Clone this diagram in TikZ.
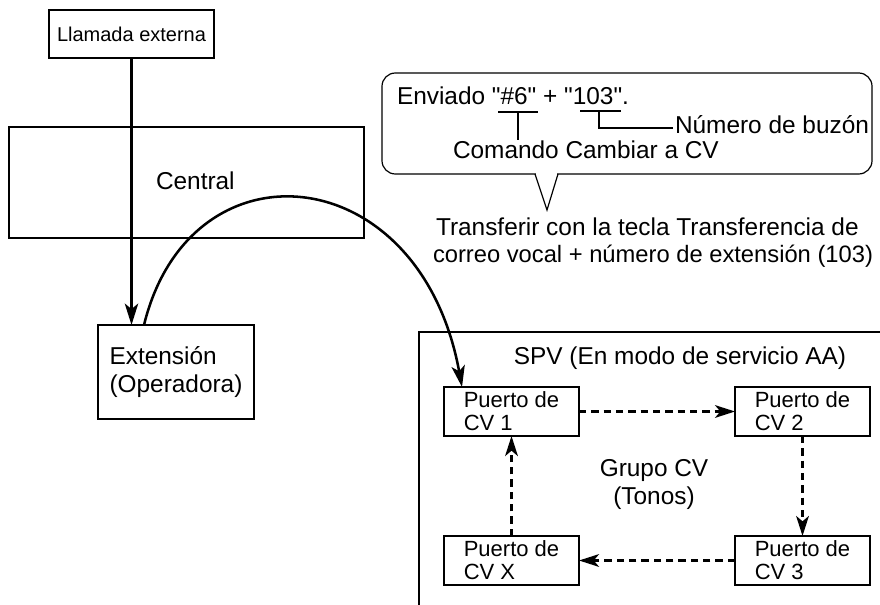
\documentclass[tikz,border=0pt]{standalone}
\usepackage{fontspec}
\newfontfamily\arialf{Liberation Sans}
\usetikzlibrary{arrows.meta,calc}
\begin{document}
\begin{tikzpicture}[x=0.75pt,y=-0.75pt,
  every node/.style={inner sep=0pt, outer sep=0pt},
  box/.style={draw, line width=0.9pt, rectangle},
  tbig/.style={font=\arialf\fontsize{18.3pt}{21pt}\selectfont},
  tport/.style={font=\arialf\fontsize{16.5pt}{17.25pt}\selectfont},
  tsmall/.style={font=\arialf\fontsize{15pt}{18pt}\selectfont},
  portbox/.style={box, tport, align=left, minimum width=101.25pt, minimum height=36.75pt},
  solidarrow/.style={line width=1.9pt, -{Stealth[length=16pt,width=10pt,inset=4pt]}},
  dasharrow/.style={line width=1.9pt, dash pattern=on 5.5pt off 3.75pt, -{Stealth[length=15pt,width=9.5pt,inset=4pt]}},
  markline/.style={line width=0.9pt}]
\useasboundingbox (0,0) rectangle (880,605);

% left part
\node[box, tsmall, minimum width=123.75pt, minimum height=36pt] (ext) at (131.5,34) {Llamada externa};
\node[box, minimum width=266.25pt, minimum height=83.25pt] (pbx) at (186.5,182.5) {};
\node[tbig, anchor=base west] (pbxlabel) at (156,190) {Central};
\node[box, tbig, align=left, minimum width=117pt, minimum height=70.5pt] (extn) at (176,372) {Extensión\\(Operadora)};

\draw[solidarrow] (ext.south) -- (ext.south |- extn.north);

% SPV frame
\draw[markline] (419,605) -- (419,332) -- (880,332);
\node[tbig, anchor=base] (spvlabel) at (680,364) {SPV (En modo de servicio AA)};

\node[portbox] (cv1) at (511.5,411.5) {Puerto de\\CV 1};
\node[portbox] (cv2) at (802.5,411.5) {Puerto de\\CV 2};
\node[portbox] (cvx) at (511.5,560.5) {Puerto de\\CV X};
\node[portbox] (cv3) at (802.5,560.5) {Puerto de\\CV 3};
\node[tbig, align=center] (grupo) at (654,485) {Grupo CV\\(Tonos)};

\draw[dasharrow] (cv1.east) -- (cv2.west);
\draw[dasharrow] (cv2.south) -- (cv2.south |- cv3.north);
\draw[dasharrow] (cv3.west) -- (cvx.east);
\draw[dasharrow] (cvx.north) -- (cvx.north |- cv1.south);

% transfer curve
\draw[solidarrow] ($(extn.north west)+(46,0)$) .. controls (190,137) and (420,157) .. ($(cv1.north west)+(18,0)$);

% callout
\node[box, rounded corners=10pt, minimum width=367.5pt, minimum height=75.75pt] (bubble) at (627,123.5) {};
\coordinate (pl) at (535,174);
\coordinate (tip) at (547,210);
\coordinate (pr) at (558,174);
\fill[white] (535.6,172.2) rectangle (557.4,175.8);
\draw[markline, line join=miter] (pl) -- (tip) -- (pr);

\node[tbig, anchor=base west] (sent) at (397,105) {Enviado "\#6" + "103".};
\coordinate (ua) at (498,112);
\coordinate (ub) at (538,112);
\coordinate (uc) at (518,112);
\coordinate (ud) at (518,140);
\draw[markline] (ua) -- (ub);
\draw[markline] (uc) -- (ud);
\coordinate (va) at (580,111);
\coordinate (vb) at (621,111);
\coordinate (vc) at (599,111);
\coordinate (vd) at (673,128);
\draw[markline] (va) -- (vb);
\draw[markline] (vc) |- (vd);
\node[tbig, anchor=base west] (buzon) at (675,134) {Número de buzón};
\node[tbig, anchor=base west] (comando) at (453,159) {Comando Cambiar a CV};

\node[tbig, anchor=base west] (trans1) at (436,236) {Transferir con la tecla Transferencia de};
\node[tbig, font=\arialf\fontsize{17.8pt}{21pt}\selectfont, anchor=base west] (trans2) at (433,263) {correo vocal + número de extensión (103)};
\end{tikzpicture}
\end{document}
